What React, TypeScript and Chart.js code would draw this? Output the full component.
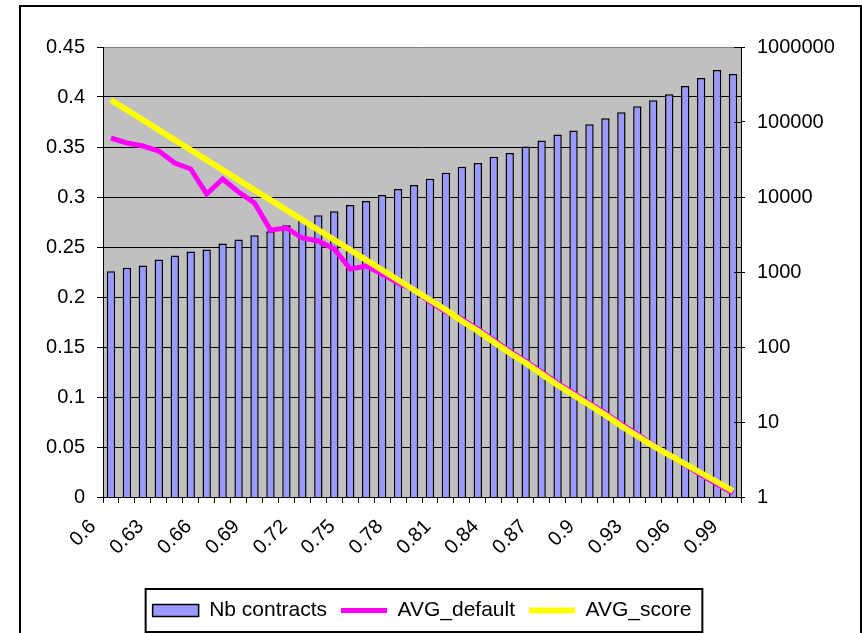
import React, { useEffect, useRef } from 'react';
import { Chart, registerables } from 'chart.js';

Chart.register(...registerables);

const categories = [
  '0.6', '0.61', '0.62', '0.63', '0.64', '0.65', '0.66', '0.67', '0.68', '0.69',
  '0.7', '0.71', '0.72', '0.73', '0.74', '0.75', '0.76', '0.77', '0.78', '0.79',
  '0.8', '0.81', '0.82', '0.83', '0.84', '0.85', '0.86', '0.87', '0.88', '0.89',
  '0.9', '0.91', '0.92', '0.93', '0.94', '0.95', '0.96', '0.97', '0.98', '0.99',
];

const nbContracts = [
  1020, 1140, 1220, 1470, 1660, 1880, 2000, 2400, 2720, 3080,
  3490, 4200, 5060, 5720, 6480, 7800, 8830, 10600, 12800, 14500,
  17500, 21000, 25400, 28400, 34500, 38700, 47100, 56700, 68200, 77200,
  93000, 112000, 135000, 162000, 195000, 235000, 301000, 386000, 494000, 436000,
];

const avgDefault = [
  0.359, 0.354, 0.351, 0.346, 0.334, 0.328, 0.303, 0.318, 0.305, 0.294,
  0.267, 0.269, 0.259, 0.256, 0.248, 0.228, 0.231, 0.223, 0.214, 0.207,
  0.195, 0.185, 0.178, 0.168, 0.157, 0.146, 0.136, 0.125, 0.114, 0.104,
  0.094, 0.084, 0.073, 0.063, 0.052, 0.042, 0.032, 0.022, 0.013, 0.004,
];

const avgScore = [
  0.397, 0.387, 0.377, 0.367, 0.357, 0.347, 0.337, 0.327, 0.317, 0.307,
  0.297, 0.287, 0.277, 0.267, 0.257, 0.247, 0.237, 0.227, 0.217, 0.207,
  0.197, 0.187, 0.176, 0.166, 0.155, 0.144, 0.134, 0.123, 0.112, 0.102,
  0.092, 0.082, 0.071, 0.061, 0.051, 0.042, 0.033, 0.024, 0.015, 0.006,
];

const leftTicks = [0, 0.05, 0.1, 0.15, 0.2, 0.25, 0.3, 0.35, 0.4, 0.45];
const rightTicks = [1, 10, 100, 1000, 10000, 100000, 1000000];

const FONT = "'Liberation Sans', Arial, sans-serif";
const FS = 20;

const decorPlugin = {
  id: 'decor',
  beforeDraw(chart: any) {
    const { ctx, chartArea } = chart;
    ctx.save();
    ctx.fillStyle = '#FFFFFF';
    ctx.fillRect(0, 0, chart.width, chart.height);
    ctx.fillStyle = '#C0C0C0';
    ctx.fillRect(chartArea.left, chartArea.top, chartArea.right - chartArea.left, chartArea.bottom - chartArea.top);
    ctx.restore();
  },
  afterDraw(chart: any) {
    const { ctx } = chart;
    ctx.save();
    ctx.strokeStyle = '#000';
    ctx.lineWidth = 2;
    ctx.strokeRect(20, 6, chart.width - 21, chart.height + 10);
    const s = chart.scales.y1;
    ctx.lineWidth = 1;
    ctx.beginPath();
    s.ticks.forEach((t: any) => {
      const y = Math.round(s.getPixelForValue(t.value)) + 0.5;
      ctx.moveTo(s.left - 7, y);
      ctx.lineTo(s.left, y);
    });
    ctx.stroke();
    const lg = chart.legend;
    const hb = lg && lg.legendHitBoxes;
    if (hb && hb.length) {
      const first = hb[0];
      const last = hb[hb.length - 1];
      const left = first.left - 7;
      const right = last.left + last.width + 11;
      const cy = first.top + first.height / 2;
      ctx.lineWidth = 2;
      ctx.strokeRect(left, cy - 21.5, right - left, 43);
    }
    ctx.restore();
  },
};

export default function App() {
  const ref = useRef<HTMLCanvasElement>(null);
  useEffect(() => {
    document.body.style.margin = '0';
    document.body.style.overflow = 'hidden';
    const chart = new Chart(ref.current as HTMLCanvasElement, {
      type: 'bar',
      data: {
        labels: categories,
        datasets: [
          {
            type: 'bar',
            label: 'Nb contracts',
            data: nbContracts,
            yAxisID: 'y1',
            backgroundColor: '#9999FF',
            borderColor: '#000000',
            borderWidth: 1.5,
            barPercentage: 0.526,
            categoryPercentage: 1,
            order: 3,
          } as any,
          {
            type: 'line',
            label: 'AVG_default',
            data: avgDefault,
            yAxisID: 'y',
            borderColor: '#FF00FF',
            backgroundColor: '#FF00FF',
            borderWidth: 5,
            pointRadius: 0,
            tension: 0,
            order: 2,
          } as any,
          {
            type: 'line',
            label: 'AVG_score',
            data: avgScore,
            yAxisID: 'y',
            borderColor: '#FFFF00',
            backgroundColor: '#FFFF00',
            borderWidth: 6,
            pointRadius: 0,
            tension: 0,
            order: 1,
          } as any,
        ],
      },
      options: {
        responsive: false,
        animation: false,
        layout: { padding: { left: 20, right: 0, top: 47, bottom: 2 } },
        plugins: {
          tooltip: { enabled: false },
          legend: {
            position: 'bottom',
            fullSize: false,
            align: 'center',
            labels: {
              usePointStyle: true,
              pointStyleWidth: 46,
              boxWidth: 46,
              boxHeight: 12,
              padding: 14,
              color: '#000',
              font: { family: FONT, size: 21 },
              generateLabels: (chart: any) =>
                chart.data.datasets.map((ds: any, i: number) => ({
                  text: ds.label,
                  fillStyle: ds.backgroundColor,
                  strokeStyle: i === 0 ? '#000' : ds.borderColor,
                  lineWidth: i === 0 ? 1.5 : ds.borderWidth,
                  pointStyle: i === 0 ? 'rect' : 'line',
                  hidden: false,
                  datasetIndex: i,
                  fontColor: '#000',
                })),
            },
          },
        },
        scales: {
          x: {
            type: 'category',
            offset: true,
            grid: {
              display: true,
              drawOnChartArea: false,
              drawTicks: true,
              tickLength: 6,
              color: '#000',
              offset: true,
            },
            border: { display: true, color: '#000', width: 1 },
            ticks: {
              autoSkip: false,
              maxRotation: 45,
              minRotation: 45,
              padding: 12,
              labelOffset: -18,
              color: '#000',
              font: { family: FONT, size: FS },
              callback: (_v: any, i: number) => (i % 3 === 0 ? categories[i] : ''),
            },
            afterFit: (s: any) => {
              s.height = 89;
            },
          },
          y: {
            type: 'linear',
            position: 'left',
            min: 0,
            max: 0.45,
            afterBuildTicks: (s: any) => {
              s.ticks = leftTicks.map((v) => ({ value: v }));
            },
            grid: {
              display: true,
              drawOnChartArea: true,
              drawTicks: true,
              tickLength: 6,
              color: (c: any) => (c.tick && c.tick.value === 0.45 ? '#808080' : '#000'),
              tickColor: '#000',
              lineWidth: 1,
            },
            border: { display: true, color: '#000', width: 1 },
            ticks: {
              padding: 12,
              color: '#000',
              font: { family: FONT, size: FS },
              callback: (v: any) => String(Number(Number(v).toFixed(2))),
            },
            afterFit: (s: any) => {
              s.width = 83;
            },
          },
          y1: {
            type: 'logarithmic',
            position: 'right',
            min: 1,
            max: 1000000,
            afterBuildTicks: (s: any) => {
              s.ticks = rightTicks.map((v) => ({ value: v }));
            },
            grid: {
              display: true,
              drawOnChartArea: false,
              drawTicks: true,
              tickLength: 4,
              color: '#000',
            },
            border: { display: true, color: '#000', width: 1 },
            ticks: {
              padding: 12,
              color: '#000',
              font: { family: FONT, size: FS },
              callback: (v: any) => String(v),
            },
            afterFit: (s: any) => {
              s.width = 121;
            },
          },
        },
      } as any,
      plugins: [decorPlugin],
    });
    return () => chart.destroy();
  }, []);
  return (
    <canvas
      ref={ref}
      width={862}
      height={633}
      style={{ display: 'block', width: 862, height: 633 }}
    />
  );
}
